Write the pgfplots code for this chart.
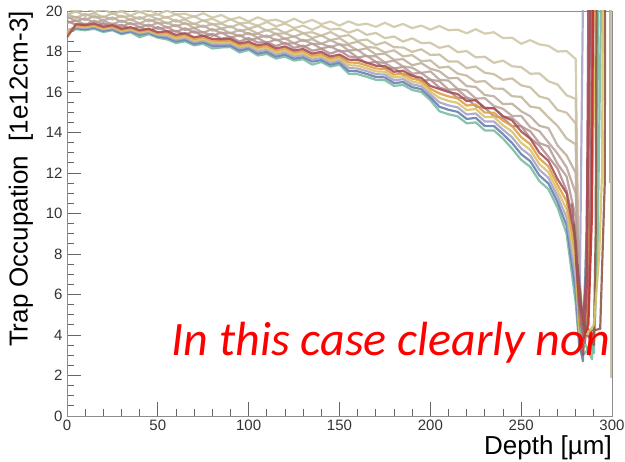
\documentclass[border=0pt]{standalone}
\usepackage{pgfplots}
\pgfplotsset{compat=1.18}
\usepackage{pgfplotstable}
\usepackage{fontspec}
\setmainfont{Liberation Sans}
\newfontfamily\calibri{Carlito}
\definecolor{cR}{HTML}{A85058}
\definecolor{cO}{HTML}{E0A048}
\definecolor{cY}{HTML}{D8C468}
\definecolor{cL}{HTML}{A8A4CC}
\definecolor{cB}{HTML}{6A80AE}
\definecolor{cG}{HTML}{78BCA4}
\definecolor{cBr}{HTML}{8E5A48}
\definecolor{cM}{HTML}{A86870}
\definecolor{t1}{HTML}{CFC8A8}
\definecolor{t2}{HTML}{CCC4A6}
\definecolor{t3}{HTML}{C8BEA2}
\definecolor{t4}{HTML}{C4B8A0}
\definecolor{t5}{HTML}{BFAF9E}
\definecolor{t6}{HTML}{BBA69C}
\definecolor{t7}{HTML}{B89C98}
\definecolor{t8}{HTML}{B49090}
\definecolor{tk}{HTML}{333333}
\pgfplotstableread{
x R O Y L B G T1 T2 T3 T4 T5 T6 T7 T8
0 18.70 18.85 18.95 19.05 19.00 18.90 20.18 20.13 19.83 19.86 19.65 19.72 19.41 19.51
5 19.35 19.30 19.25 19.20 19.15 19.10 20.38 19.97 19.98 19.66 19.71 19.50 19.53 19.32
10 19.30 19.26 19.20 19.16 19.10 19.05 20.18 20.16 19.76 19.86 19.55 19.64 19.32 19.37
15 19.38 19.32 19.28 19.22 19.18 19.12 20.23 19.94 19.89 19.68 19.75 19.42 19.52 19.21
20 19.22 19.18 19.12 19.08 19.02 18.96 20.06 20.08 19.68 19.73 19.53 19.54 19.33 19.40
25 19.30 19.25 19.20 19.15 19.10 19.05 20.25 19.86 19.89 19.58 19.68 19.33 19.38 19.18
30 19.12 19.07 19.02 18.97 18.90 18.85 20.02 19.98 19.70 19.77 19.46 19.53 19.22 19.32
35 19.20 19.15 19.10 19.05 19.00 18.95 20.16 19.77 19.76 19.56 19.59 19.34 19.41 19.10
40 19.05 19.00 18.95 18.90 18.82 18.70 19.93 19.97 19.60 19.70 19.38 19.39 19.19 19.22
45 19.12 19.07 19.02 18.96 18.92 18.86 20.05 19.78 19.80 19.49 19.59 19.23 19.33 19.01
50 18.95 18.90 18.85 18.80 18.74 18.68 19.83 19.83 19.58 19.61 19.40 19.42 19.11 19.21
55 19.00 18.92 18.84 18.76 18.68 18.60 20.02 19.66 19.71 19.38 19.43 19.18 19.21 19.00
60 18.82 18.74 18.66 18.58 18.50 18.42 19.83 19.84 19.47 19.56 19.24 19.30 18.97 19.02
65 18.90 18.82 18.74 18.66 18.58 18.50 19.87 19.61 19.58 19.35 19.41 19.06 19.15 18.84
70 18.70 18.62 18.54 18.46 18.38 18.30 19.71 19.74 19.35 19.38 19.16 19.16 18.93 19.00
75 18.78 18.70 18.62 18.54 18.46 18.38 19.89 19.51 19.54 19.20 19.28 18.93 18.96 18.76
80 18.62 18.54 18.46 18.38 18.28 18.15 19.67 19.62 19.33 19.37 19.03 19.11 18.77 18.87
85 18.60 18.52 18.44 18.36 18.28 18.20 19.80 19.40 19.37 19.13 19.13 18.90 18.94 18.63
90 18.62 18.54 18.46 18.38 18.30 18.22 19.58 19.59 19.19 19.25 18.89 18.93 18.69 18.72
95 18.40 18.32 18.24 18.16 18.05 17.95 19.69 19.39 19.37 19.01 19.07 18.75 18.81 18.49
100 18.48 18.40 18.32 18.24 18.16 18.08 19.48 19.43 19.13 19.11 18.85 18.92 18.56 18.66
105 18.30 18.20 18.10 18.00 17.90 17.80 19.69 19.27 19.26 18.89 18.88 18.68 18.66 18.44
110 18.38 18.28 18.18 18.08 17.98 17.88 19.51 19.46 19.03 19.07 18.70 18.79 18.42 18.46
115 18.15 18.05 17.95 17.85 17.75 17.65 19.57 19.24 19.14 18.87 18.87 18.55 18.60 18.27
120 18.25 18.15 18.05 17.95 17.85 17.75 19.42 19.38 18.92 18.90 18.63 18.64 18.38 18.43
125 18.05 17.95 17.85 17.75 17.65 17.55 19.62 19.16 19.11 18.73 18.75 18.41 18.41 18.18
130 18.12 18.02 17.92 17.82 17.72 17.62 19.41 19.28 18.91 18.90 18.51 18.58 18.22 18.29
135 17.90 17.80 17.70 17.60 17.50 17.35 19.56 19.07 18.95 18.67 18.61 18.37 18.39 18.04
140 17.98 17.88 17.78 17.68 17.58 17.48 19.35 19.27 18.78 18.79 18.38 18.39 18.14 18.13
145 17.75 17.65 17.55 17.45 17.35 17.25 19.48 19.08 18.96 18.56 18.56 18.21 18.26 17.89
150 17.85 17.75 17.65 17.55 17.45 17.35 19.28 19.13 18.73 18.66 18.35 18.37 18.01 18.06
155 17.60 17.46 17.32 17.18 17.04 16.90 19.49 18.93 18.81 18.37 18.31 18.05 18.02 17.76
160 17.58 17.44 17.30 17.16 17.02 16.88 19.31 19.08 18.53 18.49 18.06 18.08 17.70 17.69
165 17.45 17.31 17.17 17.03 16.89 16.75 19.37 18.82 18.59 18.22 18.16 17.76 17.79 17.42
170 17.30 17.16 17.02 16.88 16.74 16.60 19.22 18.92 18.32 18.19 17.85 17.77 17.49 17.49
175 17.28 17.14 17.00 16.86 16.72 16.58 19.42 18.66 18.46 17.95 17.90 17.46 17.43 17.16
180 17.00 16.86 16.72 16.58 16.44 16.30 19.21 18.74 18.21 18.06 17.59 17.55 17.16 17.18
185 17.05 16.91 16.77 16.63 16.49 16.35 19.36 18.49 18.20 17.76 17.62 17.26 17.24 16.85
190 16.80 16.66 16.52 16.38 16.24 16.10 19.15 18.65 17.98 17.82 17.32 17.20 16.91 16.85
195 16.70 16.56 16.42 16.28 16.14 16.00 19.28 18.42 18.11 17.52 17.43 16.94 16.94 16.53
200 16.30 16.16 16.02 15.88 15.74 15.60 19.08 18.43 17.83 17.56 17.15 17.02 16.61 16.61
205 16.15 15.93 15.71 15.49 15.27 15.05 19.26 18.18 17.85 17.20 17.02 16.61 16.53 16.22
210 16.00 15.78 15.56 15.34 15.12 14.90 19.05 18.28 17.51 17.25 16.68 16.56 16.12 16.07
215 15.90 15.68 15.46 15.24 15.02 14.80 19.08 17.97 17.51 16.91 16.69 16.15 16.12 15.71
220 15.55 15.33 15.11 14.89 14.67 14.45 18.90 18.02 17.18 16.81 16.29 16.08 15.73 15.70
225 15.60 15.38 15.16 14.94 14.72 14.50 19.10 17.71 17.26 16.50 16.25 15.68 15.58 15.28
230 15.20 14.98 14.76 14.54 14.32 14.10 18.88 17.74 16.95 16.54 15.85 15.69 15.22 15.22
235 15.20 14.98 14.76 14.54 14.32 14.10 18.95 17.44 16.88 16.17 15.79 15.31 15.21 14.80
240 14.80 14.58 14.36 14.14 13.92 13.70 18.66 17.55 16.60 16.16 15.40 15.17 14.79 14.72
245 14.60 14.32 14.04 13.76 13.48 13.20 18.68 17.27 16.67 15.79 15.42 14.82 14.73 14.31
250 14.05 13.77 13.49 13.21 12.93 12.65 18.38 17.23 16.33 15.76 15.05 14.82 14.31 14.31
255 13.70 13.42 13.14 12.86 12.58 12.30 18.56 16.90 16.23 15.28 14.80 14.26 14.06 13.72
260 13.00 12.72 12.44 12.16 11.88 11.60 18.35 16.92 15.78 15.21 14.33 14.07 13.48 13.36
265 12.60 12.32 12.04 11.76 11.48 11.20 18.28 16.53 15.66 14.75 14.22 13.51 13.31 12.80
270 11.70 11.42 11.14 10.86 10.58 10.30 18.00 16.37 15.11 14.33 13.36 12.96 12.45 12.22
275 11.00 10.60 10.20 9.80 9.40 9.00 18.02 15.84 14.98 13.70 12.87 12.28 11.83 11.13
280 8.60 8.00 7.40 6.80 6.20 5.60 17.63 15.66 14.45 13.42 12.01 11.01 9.80 9.10
282 5.20 4.60 4.30 4.00 3.60 3.40 4.80 5.20 5.50 6.00 6.50 7.00 6.50 6.00
284 3.00 3.60 3.20 20.5 2.70 3.00 4.00 3.80 4.20 4.50 4.00 4.60 4.20 3.90
286 6.00 4.20 5.00 20.5 9.00 3.20 9.00 6.00 4.50 5.50 7.00 5.00 6.00 4.80
288 20.5 11.0 8.50 20.5 20.5 3.60 20.5 14.0 10.0 12.0 20.5 9.00 20.5 8.00
290 20.5 20.5 15.0 20.5 20.5 3.10 20.5 20.5 20.5 20.5 20.5 16.0 20.5 20.5
292 20.5 20.5 20.5 20.5 20.5 8.00 20.5 20.5 20.5 20.5 20.5 20.5 20.5 20.5
294 20.5 20.5 20.5 20.5 20.5 20.5 20.5 20.5 20.5 20.5 20.5 20.5 20.5 20.5
}\data
\begin{document}
\begin{tikzpicture}
\begin{axis}[
  name=ax,
  scale only axis,
  width=545pt, height=405pt,
  xmin=0, xmax=300, ymin=0, ymax=20,
  xtick={0,50,...,300}, ytick={0,2,...,20},
  minor x tick num=4, minor y tick num=3,
  xtick pos=left, ytick pos=left,
  tick align=inside,
  major tick length=14pt, minor tick length=7pt,
  axis line style={draw=black!45},
  every tick/.style={draw=black!60, line width=0.9pt},
  tick label style={font=\fontsize{15}{15}\selectfont, text=tk},
  /pgf/number format/assume math mode=true,
  yticklabel style={xshift=-1pt},
  xticklabel style={yshift=0pt},
  xlabel={Depth [µm]},
  ylabel={Trap Occupation\ \ [1e12cm-3]},
  label style={font=\fontsize{26}{26}\selectfont, text=black},
  xlabel style={at={(axis description cs:1,-0.047)}, anchor=north east, inner sep=0pt},
  ylabel style={at={(axis description cs:-0.062,1.0)}, anchor=south east, inner sep=0pt},
  no markers,
  every axis plot/.append style={line width=2.2pt, line join=round, opacity=0.9},
]
\addplot[t1] table[x=x,y=T1]{\data};
\addplot[t2] table[x=x,y=T2]{\data};
\addplot[t3] table[x=x,y=T3]{\data};
\addplot[t4] table[x=x,y=T4]{\data};
\addplot[t5] table[x=x,y=T5]{\data};
\addplot[t6] table[x=x,y=T6]{\data};
\addplot[t7] table[x=x,y=T7]{\data};
\addplot[t8] table[x=x,y=T8]{\data};
\addplot[cG] table[x=x,y=G]{\data};
\addplot[cB] table[x=x,y=B]{\data};
\addplot[cL] table[x=x,y=L]{\data};
\addplot[cY] table[x=x,y=Y]{\data};
\addplot[cO] table[x=x,y=O]{\data};
\addplot[cR] table[x=x,y=R]{\data};
\addplot[cBr] coordinates {(281,7.5) (284,4.5) (288,4.2) (293.5,4.3) (296,11.5) (296.2,20.5)};
\addplot[cG] coordinates {(281,7) (283,4) (286,3.4) (289,2.8) (291,6) (292.5,20.5)};
\addplot[cM] coordinates {(278,10.5) (281,7) (283,4.5) (285,3.6) (287,5) (288.5,12) (289,20.5)};
\addplot[cBr] coordinates {(279,9.5) (282,6) (285,4.2) (288,3.8) (290,3.5) (291,9) (291.5,20.5)};
\addplot[cR] coordinates {(280,8) (282,5.5) (284,4.8) (286,7) (287,20.5)};
\addplot[red!70!black!80] coordinates {(283,3.5) (287,4.5) (289,10) (289.5,20.5)};
\addplot[cY] coordinates {(286,4) (290,4.5) (293,8) (294.5,12) (295,20.5)};
\addplot[cL] coordinates {(298.8,20.5) (298.8,11.5)};
\addplot[t3] coordinates {(299.3,20.5) (299.3,1.9)};
\node[anchor=base east, inner sep=0pt, text=red, font=\calibri\itshape\fontsize{48}{48}\selectfont] at (axis cs:299,3.0) {In this case clearly non};
\end{axis}
\pgfresetboundingbox
\path ([shift={(-67pt,-46pt)}]ax.south west) rectangle ([shift={(13pt,11pt)}]ax.north east);
\end{tikzpicture}
\end{document}
